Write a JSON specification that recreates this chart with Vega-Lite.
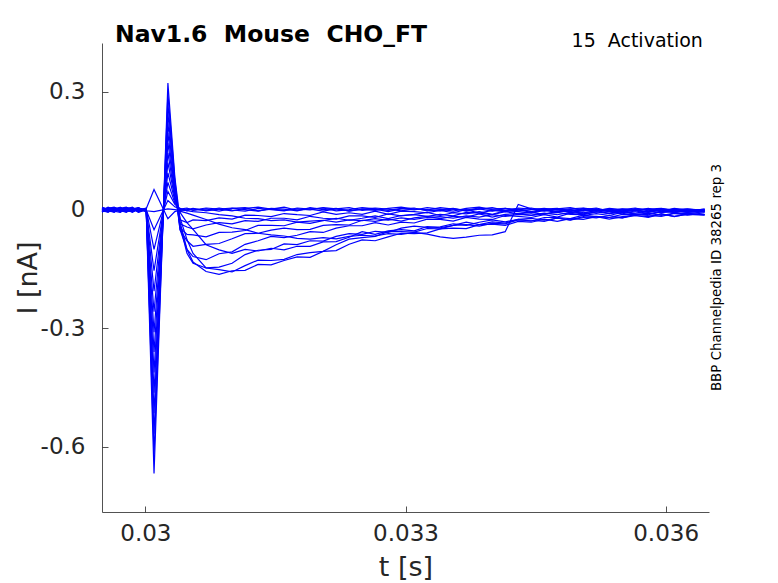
{
  "$schema": "https://vega.github.io/schema/vega-lite/v6.json",
  "width": 607,
  "height": 469,
  "autosize": {"type": "none"},
  "padding": {"left": 102, "top": 43, "right": 69, "bottom": 71},
  "background": "white",
  "title": {
    "text": "Nav1.6\u00a0\u00a0Mouse\u00a0\u00a0CHO_FT",
    "anchor": "start",
    "frame": "group",
    "font": "DejaVu Sans",
    "fontSize": 23.5,
    "fontWeight": "bold",
    "color": "black",
    "dx": 13,
    "offset": -34,
    "baseline": "alphabetic"
  },
  "data": {
    "values": [
      {"v":-90,"t":0.0295,"i":0.003},{"v":-90,"t":0.02957,"i":-0.004},{"v":-90,"t":0.02964,"i":0.006},{"v":-90,"t":0.02971,"i":0.0},{"v":-90,"t":0.02978,"i":-0.005},{"v":-90,"t":0.02985,"i":0.004},{"v":-90,"t":0.02992,"i":-0.002},{"v":-90,"t":0.03001,"i":0.003},
      {"v":-90,"t":0.0301,"i":0.052},{"v":-90,"t":0.03026,"i":-0.022},{"v":-90,"t":0.03034,"i":-0.004},
      {"v":-90,"t":0.0304,"i":0.0},{"v":-90,"t":0.03048,"i":0.003},{"v":-90,"t":0.03055,"i":0.0},{"v":-90,"t":0.0307,"i":0.005},{"v":-90,"t":0.03085,"i":0.002},{"v":-90,"t":0.031,"i":-0.002},{"v":-90,"t":0.03115,"i":0.004},{"v":-90,"t":0.0313,"i":0.007},{"v":-90,"t":0.03145,"i":0.002},{"v":-90,"t":0.0316,"i":-0.001},{"v":-90,"t":0.03175,"i":0.003},{"v":-90,"t":0.0319,"i":0.0},{"v":-90,"t":0.03205,"i":0.006},{"v":-90,"t":0.0322,"i":0.003},{"v":-90,"t":0.03235,"i":-0.002},{"v":-90,"t":0.0325,"i":0.002},{"v":-90,"t":0.03265,"i":-0.001},{"v":-90,"t":0.0328,"i":0.004},{"v":-90,"t":0.03295,"i":0.007},{"v":-90,"t":0.0331,"i":0.002},{"v":-90,"t":0.03325,"i":0.001},{"v":-90,"t":0.0334,"i":-0.002},{"v":-90,"t":0.03355,"i":0.003},{"v":-90,"t":0.0337,"i":0.0},{"v":-90,"t":0.03385,"i":0.005},{"v":-90,"t":0.034,"i":0.002},{"v":-90,"t":0.03415,"i":0.004},{"v":-90,"t":0.0343,"i":-0.002},{"v":-90,"t":0.03445,"i":0.001},{"v":-90,"t":0.0346,"i":0.004},{"v":-90,"t":0.03475,"i":0.0},{"v":-90,"t":0.0349,"i":0.003},{"v":-90,"t":0.03505,"i":0.005},{"v":-90,"t":0.0352,"i":0.001},{"v":-90,"t":0.03535,"i":-0.002},{"v":-90,"t":0.0355,"i":0.003},{"v":-90,"t":0.03565,"i":0.0},{"v":-90,"t":0.0358,"i":0.002},{"v":-90,"t":0.03595,"i":0.004},{"v":-90,"t":0.0361,"i":-0.001},{"v":-90,"t":0.03625,"i":0.002},{"v":-90,"t":0.03645,"i":0.0},

      {"v":-80,"t":0.0295,"i":-0.005},{"v":-80,"t":0.02957,"i":0.002},{"v":-80,"t":0.02964,"i":-0.001},{"v":-80,"t":0.02971,"i":0.007},{"v":-80,"t":0.02978,"i":-0.003},{"v":-80,"t":0.02985,"i":0.001},{"v":-80,"t":0.02992,"i":0.005},{"v":-80,"t":0.03001,"i":-0.002},
      {"v":-80,"t":0.0301,"i":-0.004},{"v":-80,"t":0.03026,"i":0.003},{"v":-80,"t":0.03034,"i":0.001},
      {"v":-80,"t":0.0304,"i":-0.001},{"v":-80,"t":0.03048,"i":0.001},{"v":-80,"t":0.03055,"i":0.004},{"v":-80,"t":0.0307,"i":-0.002},{"v":-80,"t":0.03085,"i":0.002},{"v":-80,"t":0.031,"i":0.005},{"v":-80,"t":0.03115,"i":0.001},{"v":-80,"t":0.0313,"i":-0.003},{"v":-80,"t":0.03145,"i":0.004},{"v":-80,"t":0.0316,"i":0.002},{"v":-80,"t":0.03175,"i":-0.002},{"v":-80,"t":0.0319,"i":0.006},{"v":-80,"t":0.03205,"i":0.001},{"v":-80,"t":0.0322,"i":0.004},{"v":-80,"t":0.03235,"i":-0.003},{"v":-80,"t":0.0325,"i":0.002},{"v":-80,"t":0.03265,"i":0.005},{"v":-80,"t":0.0328,"i":0.002},{"v":-80,"t":0.03295,"i":-0.002},{"v":-80,"t":0.0331,"i":0.003},{"v":-80,"t":0.03325,"i":0.0},{"v":-80,"t":0.0334,"i":0.006},{"v":-80,"t":0.03355,"i":0.002},{"v":-80,"t":0.0337,"i":-0.001},{"v":-80,"t":0.03385,"i":0.003},{"v":-80,"t":0.034,"i":-0.003},{"v":-80,"t":0.03415,"i":0.004},{"v":-80,"t":0.0343,"i":0.001},{"v":-80,"t":0.03445,"i":0.005},{"v":-80,"t":0.0346,"i":-0.001},{"v":-80,"t":0.03475,"i":0.002},{"v":-80,"t":0.0349,"i":-0.003},{"v":-80,"t":0.03505,"i":0.004},{"v":-80,"t":0.0352,"i":0.0},{"v":-80,"t":0.03535,"i":0.002},{"v":-80,"t":0.0355,"i":-0.002},{"v":-80,"t":0.03565,"i":0.003},{"v":-80,"t":0.0358,"i":0.001},{"v":-80,"t":0.03595,"i":-0.002},{"v":-80,"t":0.0361,"i":0.004},{"v":-80,"t":0.03625,"i":0.0},{"v":-80,"t":0.03645,"i":-0.001},

      {"v":-70,"t":0.0295,"i":0.006},{"v":-70,"t":0.02957,"i":0.001},{"v":-70,"t":0.02964,"i":-0.006},{"v":-70,"t":0.02971,"i":0.003},{"v":-70,"t":0.02978,"i":0.005},{"v":-70,"t":0.02985,"i":-0.004},{"v":-70,"t":0.02992,"i":0.002},{"v":-70,"t":0.03001,"i":0.0},
      {"v":-70,"t":0.0301,"i":-0.05},{"v":-70,"t":0.03026,"i":0.024},{"v":-70,"t":0.03034,"i":0.008},
      {"v":-70,"t":0.0304,"i":0.002},{"v":-70,"t":0.03048,"i":0.005},{"v":-70,"t":0.03055,"i":-0.001},{"v":-70,"t":0.0307,"i":0.003},{"v":-70,"t":0.03085,"i":-0.003},{"v":-70,"t":0.031,"i":0.004},{"v":-70,"t":0.03115,"i":0.006},{"v":-70,"t":0.0313,"i":-0.002},{"v":-70,"t":0.03145,"i":0.002},{"v":-70,"t":0.0316,"i":0.007},{"v":-70,"t":0.03175,"i":-0.001},{"v":-70,"t":0.0319,"i":0.003},{"v":-70,"t":0.03205,"i":0.005},{"v":-70,"t":0.0322,"i":-0.002},{"v":-70,"t":0.03235,"i":0.001},{"v":-70,"t":0.0325,"i":0.006},{"v":-70,"t":0.03265,"i":0.003},{"v":-70,"t":0.0328,"i":-0.001},{"v":-70,"t":0.03295,"i":0.004},{"v":-70,"t":0.0331,"i":0.0},{"v":-70,"t":0.03325,"i":0.006},{"v":-70,"t":0.0334,"i":0.002},{"v":-70,"t":0.03355,"i":-0.003},{"v":-70,"t":0.0337,"i":0.004},{"v":-70,"t":0.03385,"i":0.007},{"v":-70,"t":0.034,"i":0.001},{"v":-70,"t":0.03415,"i":-0.002},{"v":-70,"t":0.0343,"i":0.005},{"v":-70,"t":0.03445,"i":0.002},{"v":-70,"t":0.0346,"i":-0.003},{"v":-70,"t":0.03475,"i":0.003},{"v":-70,"t":0.0349,"i":0.006},{"v":-70,"t":0.03505,"i":0.0},{"v":-70,"t":0.0352,"i":-0.002},{"v":-70,"t":0.03535,"i":0.004},{"v":-70,"t":0.0355,"i":0.001},{"v":-70,"t":0.03565,"i":0.005},{"v":-70,"t":0.0358,"i":-0.002},{"v":-70,"t":0.03595,"i":0.003},{"v":-70,"t":0.0361,"i":0.0},{"v":-70,"t":0.03625,"i":-0.003},{"v":-70,"t":0.03645,"i":0.002},

      {"v":-60,"t":0.0295,"i":-0.002},{"v":-60,"t":0.02957,"i":0.007},{"v":-60,"t":0.02964,"i":0.002},{"v":-60,"t":0.02971,"i":-0.004},{"v":-60,"t":0.02978,"i":0.001},{"v":-60,"t":0.02985,"i":0.006},{"v":-60,"t":0.02992,"i":-0.005},{"v":-60,"t":0.03001,"i":0.002},
      {"v":-60,"t":0.0301,"i":-0.1},{"v":-60,"t":0.03026,"i":0.047},{"v":-60,"t":0.03034,"i":0.014},
      {"v":-60,"t":0.0304,"i":0.004},{"v":-60,"t":0.03048,"i":-0.002},{"v":-60,"t":0.03055,"i":0.003},{"v":-60,"t":0.0307,"i":-0.001},{"v":-60,"t":0.03085,"i":0.005},{"v":-60,"t":0.031,"i":0.0},{"v":-60,"t":0.03115,"i":-0.003},{"v":-60,"t":0.0313,"i":0.004},{"v":-60,"t":0.03145,"i":0.001},{"v":-60,"t":0.0316,"i":-0.002},{"v":-60,"t":0.03175,"i":0.005},{"v":-60,"t":0.0319,"i":0.002},{"v":-60,"t":0.03205,"i":-0.003},{"v":-60,"t":0.0322,"i":0.003},{"v":-60,"t":0.03235,"i":0.006},{"v":-60,"t":0.0325,"i":-0.001},{"v":-60,"t":0.03265,"i":0.002},{"v":-60,"t":0.0328,"i":-0.004},{"v":-60,"t":0.03295,"i":0.003},{"v":-60,"t":0.0331,"i":0.005},{"v":-60,"t":0.03325,"i":-0.002},{"v":-60,"t":0.0334,"i":0.001},{"v":-60,"t":0.03355,"i":0.004},{"v":-60,"t":0.0337,"i":-0.003},{"v":-60,"t":0.03385,"i":0.002},{"v":-60,"t":0.034,"i":0.006},{"v":-60,"t":0.03415,"i":-0.001},{"v":-60,"t":0.0343,"i":0.003},{"v":-60,"t":0.03445,"i":-0.004},{"v":-60,"t":0.0346,"i":0.002},{"v":-60,"t":0.03475,"i":0.004},{"v":-60,"t":0.0349,"i":-0.002},{"v":-60,"t":0.03505,"i":0.001},{"v":-60,"t":0.0352,"i":0.005},{"v":-60,"t":0.03535,"i":-0.003},{"v":-60,"t":0.0355,"i":0.002},{"v":-60,"t":0.03565,"i":-0.001},{"v":-60,"t":0.0358,"i":0.004},{"v":-60,"t":0.03595,"i":-0.003},{"v":-60,"t":0.0361,"i":0.001},{"v":-60,"t":0.03625,"i":0.003},{"v":-60,"t":0.03645,"i":-0.002},

      {"v":-50,"t":0.0295,"i":0.001},{"v":-50,"t":0.02957,"i":-0.006},{"v":-50,"t":0.02964,"i":0.004},{"v":-50,"t":0.02971,"i":0.006},{"v":-50,"t":0.02978,"i":-0.002},{"v":-50,"t":0.02985,"i":-0.005},{"v":-50,"t":0.02992,"i":0.004},{"v":-50,"t":0.03001,"i":-0.001},
      {"v":-50,"t":0.0301,"i":-0.154},{"v":-50,"t":0.03026,"i":0.07},{"v":-50,"t":0.03034,"i":0.018},
      {"v":-50,"t":0.0304,"i":0.001},{"v":-50,"t":0.03048,"i":-0.002},{"v":-50,"t":0.03055,"i":-0.004},{"v":-50,"t":0.0307,"i":-0.007},{"v":-50,"t":0.03085,"i":-0.012},{"v":-50,"t":0.031,"i":-0.015},{"v":-50,"t":0.03115,"i":-0.021},{"v":-50,"t":0.0313,"i":-0.022},{"v":-50,"t":0.03145,"i":-0.027},{"v":-50,"t":0.0316,"i":-0.025},{"v":-50,"t":0.03175,"i":-0.031},{"v":-50,"t":0.0319,"i":-0.028},{"v":-50,"t":0.03205,"i":-0.026},{"v":-50,"t":0.0322,"i":-0.031},{"v":-50,"t":0.03235,"i":-0.025},{"v":-50,"t":0.0325,"i":-0.027},{"v":-50,"t":0.03265,"i":-0.022},{"v":-50,"t":0.0328,"i":-0.026},{"v":-50,"t":0.03295,"i":-0.02},{"v":-50,"t":0.0331,"i":-0.024},{"v":-50,"t":0.03325,"i":-0.019},{"v":-50,"t":0.0334,"i":-0.017},{"v":-50,"t":0.03355,"i":-0.021},{"v":-50,"t":0.0337,"i":-0.015},{"v":-50,"t":0.03385,"i":-0.018},{"v":-50,"t":0.034,"i":-0.012},{"v":-50,"t":0.03415,"i":-0.016},{"v":-50,"t":0.0343,"i":-0.011},{"v":-50,"t":0.03445,"i":-0.013},{"v":-50,"t":0.0346,"i":-0.008},{"v":-50,"t":0.03475,"i":-0.012},{"v":-50,"t":0.0349,"i":-0.006},{"v":-50,"t":0.03505,"i":-0.01},{"v":-50,"t":0.0352,"i":-0.005},{"v":-50,"t":0.03535,"i":-0.009},{"v":-50,"t":0.0355,"i":-0.004},{"v":-50,"t":0.03565,"i":-0.008},{"v":-50,"t":0.0358,"i":-0.003},{"v":-50,"t":0.03595,"i":-0.007},{"v":-50,"t":0.0361,"i":-0.002},{"v":-50,"t":0.03625,"i":-0.006},{"v":-50,"t":0.03645,"i":-0.003},

      {"v":-40,"t":0.0295,"i":0.005},{"v":-40,"t":0.02957,"i":0.0},{"v":-40,"t":0.02964,"i":-0.003},{"v":-40,"t":0.02971,"i":-0.006},{"v":-40,"t":0.02978,"i":0.004},{"v":-40,"t":0.02985,"i":0.002},{"v":-40,"t":0.02992,"i":-0.004},{"v":-40,"t":0.03001,"i":0.003},
      {"v":-40,"t":0.0301,"i":-0.206},{"v":-40,"t":0.03026,"i":0.094},{"v":-40,"t":0.03034,"i":0.024},
      {"v":-40,"t":0.0304,"i":-0.003},{"v":-40,"t":0.03048,"i":-0.008},{"v":-40,"t":0.03055,"i":-0.013},{"v":-40,"t":0.0307,"i":-0.024},{"v":-40,"t":0.03085,"i":-0.036},{"v":-40,"t":0.031,"i":-0.045},{"v":-40,"t":0.03115,"i":-0.05},{"v":-40,"t":0.0313,"i":-0.059},{"v":-40,"t":0.03145,"i":-0.063},{"v":-40,"t":0.0316,"i":-0.066},{"v":-40,"t":0.03175,"i":-0.072},{"v":-40,"t":0.0319,"i":-0.074},{"v":-40,"t":0.03205,"i":-0.07},{"v":-40,"t":0.0322,"i":-0.073},{"v":-40,"t":0.03235,"i":-0.067},{"v":-40,"t":0.0325,"i":-0.064},{"v":-40,"t":0.03265,"i":-0.066},{"v":-40,"t":0.0328,"i":-0.06},{"v":-40,"t":0.03295,"i":-0.062},{"v":-40,"t":0.0331,"i":-0.057},{"v":-40,"t":0.03325,"i":-0.061},{"v":-40,"t":0.0334,"i":-0.068},{"v":-40,"t":0.03355,"i":-0.072},{"v":-40,"t":0.0337,"i":-0.069},{"v":-40,"t":0.03385,"i":-0.064},{"v":-40,"t":0.034,"i":-0.063},{"v":-40,"t":0.03415,"i":-0.055},{"v":-40,"t":0.0343,"i":0.014},{"v":-40,"t":0.03445,"i":0.003},{"v":-40,"t":0.0346,"i":0.002},{"v":-40,"t":0.03475,"i":-0.004},{"v":-40,"t":0.0349,"i":0.001},{"v":-40,"t":0.03505,"i":-0.003},{"v":-40,"t":0.0352,"i":0.002},{"v":-40,"t":0.03535,"i":-0.004},{"v":-40,"t":0.0355,"i":0.0},{"v":-40,"t":0.03565,"i":-0.003},{"v":-40,"t":0.0358,"i":0.002},{"v":-40,"t":0.03595,"i":-0.002},{"v":-40,"t":0.0361,"i":-0.005},{"v":-40,"t":0.03625,"i":0.0},{"v":-40,"t":0.03645,"i":-0.003},

      {"v":-30,"t":0.0295,"i":-0.004},{"v":-30,"t":0.02957,"i":0.004},{"v":-30,"t":0.02964,"i":0.007},{"v":-30,"t":0.02971,"i":-0.001},{"v":-30,"t":0.02978,"i":-0.006},{"v":-30,"t":0.02985,"i":0.003},{"v":-30,"t":0.02992,"i":0.006},{"v":-30,"t":0.03001,"i":-0.003},
      {"v":-30,"t":0.0301,"i":-0.258},{"v":-30,"t":0.03026,"i":0.12},{"v":-30,"t":0.03034,"i":0.03},
      {"v":-30,"t":0.0304,"i":-0.006},{"v":-30,"t":0.03048,"i":-0.032},{"v":-30,"t":0.03055,"i":-0.049},{"v":-30,"t":0.0307,"i":-0.088},{"v":-30,"t":0.03085,"i":-0.101},{"v":-30,"t":0.031,"i":-0.11},{"v":-30,"t":0.03115,"i":-0.1},{"v":-30,"t":0.0313,"i":-0.104},{"v":-30,"t":0.03145,"i":-0.097},{"v":-30,"t":0.0316,"i":-0.101},{"v":-30,"t":0.03175,"i":-0.092},{"v":-30,"t":0.0319,"i":-0.092},{"v":-30,"t":0.03205,"i":-0.081},{"v":-30,"t":0.0322,"i":-0.08},{"v":-30,"t":0.03235,"i":-0.069},{"v":-30,"t":0.0325,"i":-0.055},{"v":-30,"t":0.03265,"i":-0.062},{"v":-30,"t":0.0328,"i":-0.053},{"v":-30,"t":0.03295,"i":-0.05},{"v":-30,"t":0.0331,"i":-0.053},{"v":-30,"t":0.03325,"i":-0.042},{"v":-30,"t":0.0334,"i":-0.045},{"v":-30,"t":0.03355,"i":-0.039},{"v":-30,"t":0.0337,"i":-0.031},{"v":-30,"t":0.03385,"i":-0.037},{"v":-30,"t":0.034,"i":-0.03},{"v":-30,"t":0.03415,"i":-0.033},{"v":-30,"t":0.0343,"i":-0.024},{"v":-30,"t":0.03445,"i":-0.021},{"v":-30,"t":0.0346,"i":-0.026},{"v":-30,"t":0.03475,"i":-0.021},{"v":-30,"t":0.0349,"i":-0.025},{"v":-30,"t":0.03505,"i":-0.017},{"v":-30,"t":0.0352,"i":-0.02},{"v":-30,"t":0.03535,"i":-0.014},{"v":-30,"t":0.0355,"i":-0.02},{"v":-30,"t":0.03565,"i":-0.014},{"v":-30,"t":0.0358,"i":-0.017},{"v":-30,"t":0.03595,"i":-0.01},{"v":-30,"t":0.0361,"i":-0.017},{"v":-30,"t":0.03625,"i":-0.01},{"v":-30,"t":0.03645,"i":-0.012},

      {"v":-20,"t":0.0295,"i":0.002},{"v":-20,"t":0.02957,"i":-0.003},{"v":-20,"t":0.02964,"i":-0.005},{"v":-20,"t":0.02971,"i":0.004},{"v":-20,"t":0.02978,"i":0.007},{"v":-20,"t":0.02985,"i":-0.002},{"v":-20,"t":0.02992,"i":0.001},{"v":-20,"t":0.03001,"i":0.004},
      {"v":-20,"t":0.0301,"i":-0.31},{"v":-20,"t":0.03026,"i":0.145},{"v":-20,"t":0.03034,"i":0.035},
      {"v":-20,"t":0.0304,"i":-0.02},{"v":-20,"t":0.03048,"i":-0.075},{"v":-20,"t":0.03055,"i":-0.11},{"v":-20,"t":0.0307,"i":-0.147},{"v":-20,"t":0.03085,"i":-0.151},{"v":-20,"t":0.031,"i":-0.157},{"v":-20,"t":0.03115,"i":-0.141},{"v":-20,"t":0.0313,"i":-0.127},{"v":-20,"t":0.03145,"i":-0.128},{"v":-20,"t":0.0316,"i":-0.125},{"v":-20,"t":0.03175,"i":-0.113},{"v":-20,"t":0.0319,"i":-0.108},{"v":-20,"t":0.03205,"i":-0.105},{"v":-20,"t":0.0322,"i":-0.088},{"v":-20,"t":0.03235,"i":-0.074},{"v":-20,"t":0.0325,"i":-0.07},{"v":-20,"t":0.03265,"i":-0.067},{"v":-20,"t":0.0328,"i":-0.055},{"v":-20,"t":0.03295,"i":-0.055},{"v":-20,"t":0.0331,"i":-0.056},{"v":-20,"t":0.03325,"i":-0.047},{"v":-20,"t":0.0334,"i":-0.048},{"v":-20,"t":0.03355,"i":-0.039},{"v":-20,"t":0.0337,"i":-0.037},{"v":-20,"t":0.03385,"i":-0.041},{"v":-20,"t":0.034,"i":-0.034},{"v":-20,"t":0.03415,"i":-0.035},{"v":-20,"t":0.0343,"i":-0.025},{"v":-20,"t":0.03445,"i":-0.026},{"v":-20,"t":0.0346,"i":-0.029},{"v":-20,"t":0.03475,"i":-0.02},{"v":-20,"t":0.0349,"i":-0.026},{"v":-20,"t":0.03505,"i":-0.019},{"v":-20,"t":0.0352,"i":-0.016},{"v":-20,"t":0.03535,"i":-0.019},{"v":-20,"t":0.0355,"i":-0.02},{"v":-20,"t":0.03565,"i":-0.011},{"v":-20,"t":0.0358,"i":-0.014},{"v":-20,"t":0.03595,"i":-0.016},{"v":-20,"t":0.0361,"i":-0.009},{"v":-20,"t":0.03625,"i":-0.01},{"v":-20,"t":0.03645,"i":-0.012},

      {"v":-10,"t":0.0295,"i":-0.006},{"v":-10,"t":0.02957,"i":0.005},{"v":-10,"t":0.02964,"i":0.001},{"v":-10,"t":0.02971,"i":-0.003},{"v":-10,"t":0.02978,"i":0.002},{"v":-10,"t":0.02985,"i":0.007},{"v":-10,"t":0.02992,"i":-0.003},{"v":-10,"t":0.03001,"i":0.001},
      {"v":-10,"t":0.0301,"i":-0.36},{"v":-10,"t":0.03026,"i":0.17},{"v":-10,"t":0.03034,"i":0.042},
      {"v":-10,"t":0.0304,"i":-0.03},{"v":-10,"t":0.03048,"i":-0.1},{"v":-10,"t":0.03055,"i":-0.132},{"v":-10,"t":0.0307,"i":-0.156},{"v":-10,"t":0.03085,"i":-0.163},{"v":-10,"t":0.031,"i":-0.154},{"v":-10,"t":0.03115,"i":-0.153},{"v":-10,"t":0.0313,"i":-0.138},{"v":-10,"t":0.03145,"i":-0.139},{"v":-10,"t":0.0316,"i":-0.128},{"v":-10,"t":0.03175,"i":-0.119},{"v":-10,"t":0.0319,"i":-0.12},{"v":-10,"t":0.03205,"i":-0.105},{"v":-10,"t":0.0322,"i":-0.103},{"v":-10,"t":0.03235,"i":-0.087},{"v":-10,"t":0.0325,"i":-0.076},{"v":-10,"t":0.03265,"i":-0.078},{"v":-10,"t":0.0328,"i":-0.068},{"v":-10,"t":0.03295,"i":-0.059},{"v":-10,"t":0.0331,"i":-0.06},{"v":-10,"t":0.03325,"i":-0.058},{"v":-10,"t":0.0334,"i":-0.048},{"v":-10,"t":0.03355,"i":-0.046},{"v":-10,"t":0.0337,"i":-0.047},{"v":-10,"t":0.03385,"i":-0.037},{"v":-10,"t":0.034,"i":-0.036},{"v":-10,"t":0.03415,"i":-0.039},{"v":-10,"t":0.0343,"i":-0.029},{"v":-10,"t":0.03445,"i":-0.031},{"v":-10,"t":0.0346,"i":-0.023},{"v":-10,"t":0.03475,"i":-0.029},{"v":-10,"t":0.0349,"i":-0.022},{"v":-10,"t":0.03505,"i":-0.024},{"v":-10,"t":0.0352,"i":-0.017},{"v":-10,"t":0.03535,"i":-0.023},{"v":-10,"t":0.0355,"i":-0.017},{"v":-10,"t":0.03565,"i":-0.014},{"v":-10,"t":0.0358,"i":-0.019},{"v":-10,"t":0.03595,"i":-0.01},{"v":-10,"t":0.0361,"i":-0.016},{"v":-10,"t":0.03625,"i":-0.011},{"v":-10,"t":0.03645,"i":-0.013},

      {"v":0,"t":0.0295,"i":0.004},{"v":0,"t":0.02957,"i":-0.002},{"v":0,"t":0.02964,"i":0.005},{"v":0,"t":0.02971,"i":0.002},{"v":0,"t":0.02978,"i":-0.004},{"v":0,"t":0.02985,"i":-0.001},{"v":0,"t":0.02992,"i":0.006},{"v":0,"t":0.03001,"i":-0.004},
      {"v":0,"t":0.0301,"i":-0.412},{"v":0,"t":0.03026,"i":0.195},{"v":0,"t":0.03034,"i":0.048},
      {"v":0,"t":0.0304,"i":-0.04},{"v":0,"t":0.03048,"i":-0.11},{"v":0,"t":0.03055,"i":-0.135},{"v":0,"t":0.0307,"i":-0.147},{"v":0,"t":0.03085,"i":-0.145},{"v":0,"t":0.031,"i":-0.135},{"v":0,"t":0.03115,"i":-0.113},{"v":0,"t":0.0313,"i":-0.102},{"v":0,"t":0.03145,"i":-0.1},{"v":0,"t":0.0316,"i":-0.086},{"v":0,"t":0.03175,"i":-0.088},{"v":0,"t":0.0319,"i":-0.078},{"v":0,"t":0.03205,"i":-0.079},{"v":0,"t":0.0322,"i":-0.067},{"v":0,"t":0.03235,"i":-0.06},{"v":0,"t":0.0325,"i":-0.062},{"v":0,"t":0.03265,"i":-0.054},{"v":0,"t":0.0328,"i":-0.057},{"v":0,"t":0.03295,"i":-0.046},{"v":0,"t":0.0331,"i":-0.041},{"v":0,"t":0.03325,"i":-0.044},{"v":0,"t":0.0334,"i":-0.043},{"v":0,"t":0.03355,"i":-0.035},{"v":0,"t":0.0337,"i":-0.039},{"v":0,"t":0.03385,"i":-0.031},{"v":0,"t":0.034,"i":-0.025},{"v":0,"t":0.03415,"i":-0.03},{"v":0,"t":0.0343,"i":-0.024},{"v":0,"t":0.03445,"i":-0.028},{"v":0,"t":0.0346,"i":-0.019},{"v":0,"t":0.03475,"i":-0.019},{"v":0,"t":0.0349,"i":-0.022},{"v":0,"t":0.03505,"i":-0.013},{"v":0,"t":0.0352,"i":-0.017},{"v":0,"t":0.03535,"i":-0.019},{"v":0,"t":0.0355,"i":-0.011},{"v":0,"t":0.03565,"i":-0.012},{"v":0,"t":0.0358,"i":-0.008},{"v":0,"t":0.03595,"i":-0.014},{"v":0,"t":0.0361,"i":-0.008},{"v":0,"t":0.03625,"i":-0.013},{"v":0,"t":0.03645,"i":-0.007},

      {"v":10,"t":0.0295,"i":0.0},{"v":10,"t":0.02957,"i":0.006},{"v":10,"t":0.02964,"i":-0.004},{"v":10,"t":0.02971,"i":0.005},{"v":10,"t":0.02978,"i":0.003},{"v":10,"t":0.02985,"i":-0.006},{"v":10,"t":0.02992,"i":0.002},{"v":10,"t":0.03001,"i":0.002},
      {"v":10,"t":0.0301,"i":-0.463},{"v":10,"t":0.03026,"i":0.22},{"v":10,"t":0.03034,"i":0.055},
      {"v":10,"t":0.0304,"i":-0.05},{"v":10,"t":0.03048,"i":-0.1},{"v":10,"t":0.03055,"i":-0.118},{"v":10,"t":0.0307,"i":-0.126},{"v":10,"t":0.03085,"i":-0.111},{"v":10,"t":0.031,"i":-0.106},{"v":10,"t":0.03115,"i":-0.087},{"v":10,"t":0.0313,"i":-0.078},{"v":10,"t":0.03145,"i":-0.067},{"v":10,"t":0.0316,"i":-0.07},{"v":10,"t":0.03175,"i":-0.064},{"v":10,"t":0.0319,"i":-0.055},{"v":10,"t":0.03205,"i":-0.057},{"v":10,"t":0.0322,"i":-0.046},{"v":10,"t":0.03235,"i":-0.04},{"v":10,"t":0.0325,"i":-0.04},{"v":10,"t":0.03265,"i":-0.032},{"v":10,"t":0.0328,"i":-0.038},{"v":10,"t":0.03295,"i":-0.031},{"v":10,"t":0.0331,"i":-0.033},{"v":10,"t":0.03325,"i":-0.023},{"v":10,"t":0.0334,"i":-0.024},{"v":10,"t":0.03355,"i":-0.028},{"v":10,"t":0.0337,"i":-0.019},{"v":10,"t":0.03385,"i":-0.023},{"v":10,"t":0.034,"i":-0.024},{"v":10,"t":0.03415,"i":-0.014},{"v":10,"t":0.0343,"i":-0.016},{"v":10,"t":0.03445,"i":-0.019},{"v":10,"t":0.0346,"i":-0.012},{"v":10,"t":0.03475,"i":-0.018},{"v":10,"t":0.0349,"i":-0.008},{"v":10,"t":0.03505,"i":-0.014},{"v":10,"t":0.0352,"i":-0.009},{"v":10,"t":0.03535,"i":-0.014},{"v":10,"t":0.0355,"i":-0.006},{"v":10,"t":0.03565,"i":-0.01},{"v":10,"t":0.0358,"i":-0.012},{"v":10,"t":0.03595,"i":-0.005},{"v":10,"t":0.0361,"i":-0.006},{"v":10,"t":0.03625,"i":-0.01},{"v":10,"t":0.03645,"i":-0.004},

      {"v":20,"t":0.0295,"i":-0.003},{"v":20,"t":0.02957,"i":-0.005},{"v":20,"t":0.02964,"i":0.003},{"v":20,"t":0.02971,"i":-0.002},{"v":20,"t":0.02978,"i":0.006},{"v":20,"t":0.02985,"i":0.004},{"v":20,"t":0.02992,"i":-0.006},{"v":20,"t":0.03001,"i":0.0},
      {"v":20,"t":0.0301,"i":-0.515},{"v":20,"t":0.03026,"i":0.245},{"v":20,"t":0.03034,"i":0.062},
      {"v":20,"t":0.0304,"i":-0.05},{"v":20,"t":0.03048,"i":-0.078},{"v":20,"t":0.03055,"i":-0.092},{"v":20,"t":0.0307,"i":-0.087},{"v":20,"t":0.03085,"i":-0.085},{"v":20,"t":0.031,"i":-0.073},{"v":20,"t":0.03115,"i":-0.06},{"v":20,"t":0.0313,"i":-0.059},{"v":20,"t":0.03145,"i":-0.051},{"v":20,"t":0.0316,"i":-0.046},{"v":20,"t":0.03175,"i":-0.05},{"v":20,"t":0.0319,"i":-0.049},{"v":20,"t":0.03205,"i":-0.039},{"v":20,"t":0.0322,"i":-0.037},{"v":20,"t":0.03235,"i":-0.038},{"v":20,"t":0.0325,"i":-0.026},{"v":20,"t":0.03265,"i":-0.029},{"v":20,"t":0.0328,"i":-0.023},{"v":20,"t":0.03295,"i":-0.028},{"v":20,"t":0.0331,"i":-0.02},{"v":20,"t":0.03325,"i":-0.016},{"v":20,"t":0.0334,"i":-0.022},{"v":20,"t":0.03355,"i":-0.016},{"v":20,"t":0.0337,"i":-0.018},{"v":20,"t":0.03385,"i":-0.01},{"v":20,"t":0.034,"i":-0.018},{"v":20,"t":0.03415,"i":-0.011},{"v":20,"t":0.0343,"i":-0.009},{"v":20,"t":0.03445,"i":-0.014},{"v":20,"t":0.0346,"i":-0.01},{"v":20,"t":0.03475,"i":-0.006},{"v":20,"t":0.0349,"i":-0.011},{"v":20,"t":0.03505,"i":-0.012},{"v":20,"t":0.0352,"i":-0.005},{"v":20,"t":0.03535,"i":-0.005},{"v":20,"t":0.0355,"i":-0.01},{"v":20,"t":0.03565,"i":-0.002},{"v":20,"t":0.0358,"i":-0.01},{"v":20,"t":0.03595,"i":-0.004},{"v":20,"t":0.0361,"i":-0.002},{"v":20,"t":0.03625,"i":-0.006},{"v":20,"t":0.03645,"i":-0.002},

      {"v":30,"t":0.0295,"i":0.007},{"v":30,"t":0.02957,"i":0.002},{"v":30,"t":0.02964,"i":-0.002},{"v":30,"t":0.02971,"i":0.006},{"v":30,"t":0.02978,"i":-0.001},{"v":30,"t":0.02985,"i":0.0},{"v":30,"t":0.02992,"i":0.003},{"v":30,"t":0.03001,"i":-0.005},
      {"v":30,"t":0.0301,"i":-0.567},{"v":30,"t":0.03026,"i":0.27},{"v":30,"t":0.03034,"i":0.07},
      {"v":30,"t":0.0304,"i":-0.045},{"v":30,"t":0.03048,"i":-0.062},{"v":30,"t":0.03055,"i":-0.063},{"v":30,"t":0.0307,"i":-0.068},{"v":30,"t":0.03085,"i":-0.057},{"v":30,"t":0.031,"i":-0.056},{"v":30,"t":0.03115,"i":-0.052},{"v":30,"t":0.0313,"i":-0.039},{"v":30,"t":0.03145,"i":-0.039},{"v":30,"t":0.0316,"i":-0.04},{"v":30,"t":0.03175,"i":-0.031},{"v":30,"t":0.0319,"i":-0.034},{"v":30,"t":0.03205,"i":-0.027},{"v":30,"t":0.0322,"i":-0.021},{"v":30,"t":0.03235,"i":-0.026},{"v":30,"t":0.0325,"i":-0.021},{"v":30,"t":0.03265,"i":-0.015},{"v":30,"t":0.0328,"i":-0.022},{"v":30,"t":0.03295,"i":-0.014},{"v":30,"t":0.0331,"i":-0.012},{"v":30,"t":0.03325,"i":-0.016},{"v":30,"t":0.0334,"i":-0.011},{"v":30,"t":0.03355,"i":-0.015},{"v":30,"t":0.0337,"i":-0.006},{"v":30,"t":0.03385,"i":-0.008},{"v":30,"t":0.034,"i":-0.012},{"v":30,"t":0.03415,"i":-0.004},{"v":30,"t":0.0343,"i":-0.01},{"v":30,"t":0.03445,"i":-0.006},{"v":30,"t":0.0346,"i":-0.011},{"v":30,"t":0.03475,"i":-0.003},{"v":30,"t":0.0349,"i":-0.004},{"v":30,"t":0.03505,"i":-0.008},{"v":30,"t":0.0352,"i":-0.001},{"v":30,"t":0.03535,"i":-0.009},{"v":30,"t":0.0355,"i":-0.003},{"v":30,"t":0.03565,"i":-0.001},{"v":30,"t":0.0358,"i":-0.006},{"v":30,"t":0.03595,"i":0.001},{"v":30,"t":0.0361,"i":-0.006},{"v":30,"t":0.03625,"i":-0.002},{"v":30,"t":0.03645,"i":-0.005},

      {"v":40,"t":0.0295,"i":-0.001},{"v":40,"t":0.02957,"i":0.003},{"v":40,"t":0.02964,"i":0.006},{"v":40,"t":0.02971,"i":-0.005},{"v":40,"t":0.02978,"i":0.002},{"v":40,"t":0.02985,"i":0.005},{"v":40,"t":0.02992,"i":-0.001},{"v":40,"t":0.03001,"i":0.005},
      {"v":40,"t":0.0301,"i":-0.62},{"v":40,"t":0.03026,"i":0.295},{"v":40,"t":0.03034,"i":0.076},
      {"v":40,"t":0.0304,"i":-0.035},{"v":40,"t":0.03048,"i":-0.043},{"v":40,"t":0.03055,"i":-0.048},{"v":40,"t":0.0307,"i":-0.038},{"v":40,"t":0.03085,"i":-0.032},{"v":40,"t":0.031,"i":-0.035},{"v":40,"t":0.03115,"i":-0.027},{"v":40,"t":0.0313,"i":-0.029},{"v":40,"t":0.03145,"i":-0.021},{"v":40,"t":0.0316,"i":-0.021},{"v":40,"t":0.03175,"i":-0.025},{"v":40,"t":0.0319,"i":-0.016},{"v":40,"t":0.03205,"i":-0.021},{"v":40,"t":0.0322,"i":-0.023},{"v":40,"t":0.03235,"i":-0.015},{"v":40,"t":0.0325,"i":-0.015},{"v":40,"t":0.03265,"i":-0.019},{"v":40,"t":0.0328,"i":-0.01},{"v":40,"t":0.03295,"i":-0.015},{"v":40,"t":0.0331,"i":-0.011},{"v":40,"t":0.03325,"i":-0.006},{"v":40,"t":0.0334,"i":-0.014},{"v":40,"t":0.03355,"i":-0.007},{"v":40,"t":0.0337,"i":-0.01},{"v":40,"t":0.03385,"i":-0.004},{"v":40,"t":0.034,"i":-0.011},{"v":40,"t":0.03415,"i":-0.002},{"v":40,"t":0.0343,"i":-0.004},{"v":40,"t":0.03445,"i":-0.008},{"v":40,"t":0.0346,"i":-0.001},{"v":40,"t":0.03475,"i":-0.006},{"v":40,"t":0.0349,"i":0.001},{"v":40,"t":0.03505,"i":-0.007},{"v":40,"t":0.0352,"i":-0.002},{"v":40,"t":0.03535,"i":0.0},{"v":40,"t":0.0355,"i":-0.006},{"v":40,"t":0.03565,"i":0.0},{"v":40,"t":0.0358,"i":-0.006},{"v":40,"t":0.03595,"i":0.002},{"v":40,"t":0.0361,"i":-0.002},{"v":40,"t":0.03625,"i":-0.005},{"v":40,"t":0.03645,"i":0.001},

      {"v":50,"t":0.0295,"i":0.002},{"v":50,"t":0.02957,"i":-0.001},{"v":50,"t":0.02964,"i":-0.004},{"v":50,"t":0.02971,"i":0.001},{"v":50,"t":0.02978,"i":0.005},{"v":50,"t":0.02985,"i":-0.003},{"v":50,"t":0.02992,"i":0.004},{"v":50,"t":0.03001,"i":-0.002},
      {"v":50,"t":0.0301,"i":-0.668},{"v":50,"t":0.03026,"i":0.322},{"v":50,"t":0.03034,"i":0.083},
      {"v":50,"t":0.0304,"i":-0.025},{"v":50,"t":0.03048,"i":-0.032},{"v":50,"t":0.03055,"i":-0.025},{"v":50,"t":0.0307,"i":-0.027},{"v":50,"t":0.03085,"i":-0.02},{"v":50,"t":0.031,"i":-0.023},{"v":50,"t":0.03115,"i":-0.013},{"v":50,"t":0.0313,"i":-0.014},{"v":50,"t":0.03145,"i":-0.017},{"v":50,"t":0.0316,"i":-0.009},{"v":50,"t":0.03175,"i":-0.012},{"v":50,"t":0.0319,"i":-0.014},{"v":50,"t":0.03205,"i":-0.005},{"v":50,"t":0.0322,"i":-0.011},{"v":50,"t":0.03235,"i":-0.007},{"v":50,"t":0.0325,"i":-0.011},{"v":50,"t":0.03265,"i":-0.003},{"v":50,"t":0.0328,"i":-0.011},{"v":50,"t":0.03295,"i":-0.003},{"v":50,"t":0.0331,"i":-0.004},{"v":50,"t":0.03325,"i":-0.007},{"v":50,"t":0.0334,"i":-0.001},{"v":50,"t":0.03355,"i":-0.007},{"v":50,"t":0.0337,"i":0.001},{"v":50,"t":0.03385,"i":-0.008},{"v":50,"t":0.034,"i":-0.001},{"v":50,"t":0.03415,"i":-0.004},{"v":50,"t":0.0343,"i":0.001},{"v":50,"t":0.03445,"i":-0.006},{"v":50,"t":0.0346,"i":0.0},{"v":50,"t":0.03475,"i":0.001},{"v":50,"t":0.0349,"i":-0.006},{"v":50,"t":0.03505,"i":-0.001},{"v":50,"t":0.0352,"i":0.003},{"v":50,"t":0.03535,"i":-0.003},{"v":50,"t":0.0355,"i":-0.004},{"v":50,"t":0.03565,"i":0.003},{"v":50,"t":0.0358,"i":0.0},{"v":50,"t":0.03595,"i":-0.004},{"v":50,"t":0.0361,"i":0.003},{"v":50,"t":0.03625,"i":-0.002},{"v":50,"t":0.03645,"i":0.002}
    ]
  },
  "layer": [
    {
      "mark": {"type": "line", "color": "#0000ff", "strokeWidth": 1.2},
      "encoding": {
        "x": {
          "field": "t",
          "type": "quantitative",
          "scale": {"domain": [0.0295, 0.0365], "nice": false, "zero": false},
          "axis": {
            "title": "t [s]",
            "values": [0.03, 0.033, 0.036],
            "format": "~g",
            "grid": false,
            "tickSize": -6,
            "labelPadding": 16,
            "titlePadding": 9
          }
        },
        "y": {
          "field": "i",
          "type": "quantitative",
          "scale": {"domain": [-0.7656, 0.4233], "nice": false, "zero": false},
          "axis": {
            "title": "I [nA]",
            "values": [-0.6, -0.3, 0, 0.3],
            "labelExpr": "datum.value === 0 ? '0' : (datum.value < 0 ? '-' + format(-datum.value, '.1f') : format(datum.value, '.1f'))",
            "grid": false,
            "tickSize": -6,
            "labelPadding": 23,
            "titlePadding": -2
          }
        },
        "detail": {"field": "v", "type": "nominal"}
      }
    },
    {
      "data": {"values": [{}]},
      "mark": {
        "type": "text",
        "text": "15\u00a0\u00a0Activation",
        "align": "right",
        "baseline": "alphabetic",
        "font": "DejaVu Sans",
        "fontSize": 19,
        "color": "black"
      },
      "encoding": {
        "x": {"datum": 0.03643},
        "y": {"datum": 0.4132}
      }
    },
    {
      "data": {"values": [{}]},
      "mark": {
        "type": "text",
        "text": "BBP Channelpedia ID 38265 rep 3",
        "angle": 270,
        "align": "center",
        "baseline": "middle",
        "font": "DejaVu Sans",
        "fontSize": 13.4,
        "color": "black"
      },
      "encoding": {
        "x": {"datum": 0.036592},
        "y": {"datum": -0.1711}
      }
    }
  ],
  "config": {
    "view": {"stroke": null},
    "axis": {
      "domainColor": "#262626",
      "domainWidth": 0.8,
      "tickColor": "#262626",
      "tickWidth": 0.8,
      "labelColor": "#262626",
      "labelFont": "DejaVu Sans",
      "labelFontSize": 23,
      "titleColor": "#262626",
      "titleFont": "DejaVu Sans",
      "titleFontSize": 27,
      "titleFontWeight": "normal"
    }
  }
}
